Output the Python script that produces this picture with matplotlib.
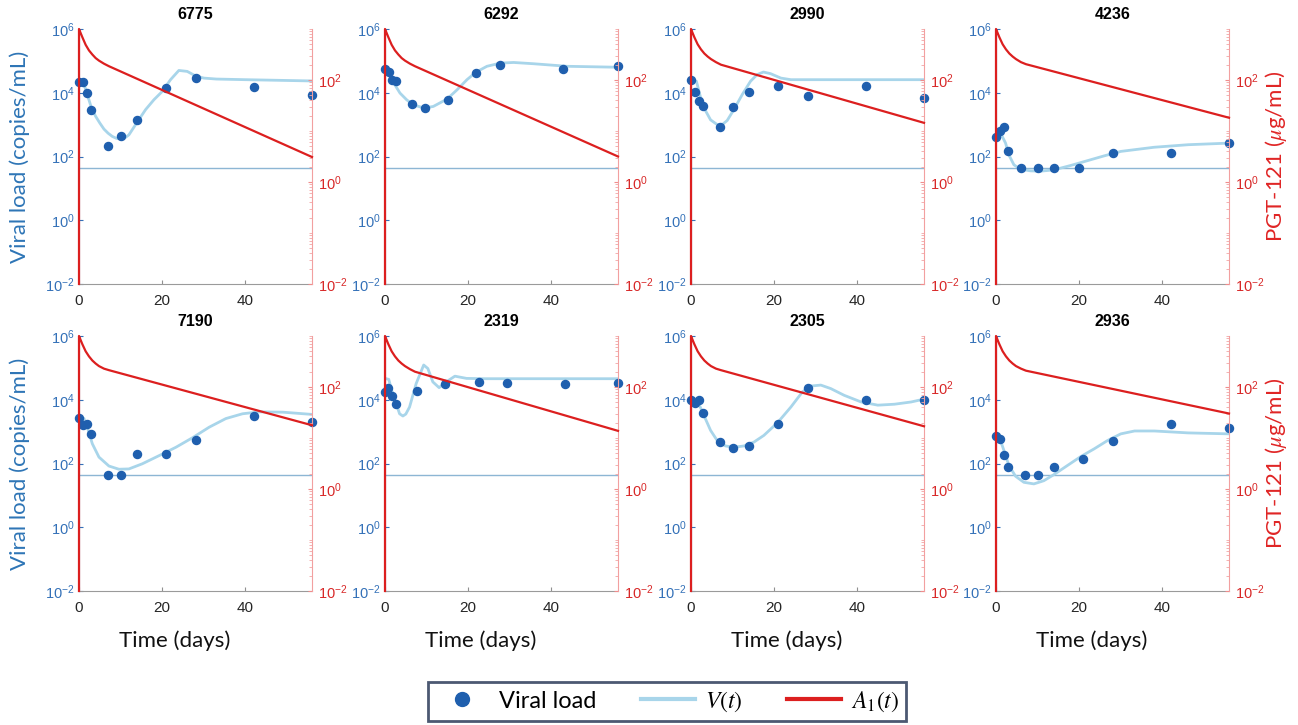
import numpy as np
import matplotlib
matplotlib.use("Agg")
import matplotlib.pyplot as plt
from matplotlib.lines import Line2D
from matplotlib.ticker import LogLocator, NullFormatter, FixedLocator

plt.rcParams["font.family"] = ["Liberation Sans", "DejaVu Sans"]
plt.rcParams["mathtext.fontset"] = "stix"

# ---- data (log10 values) ----
IDS = ["6775", "6292", "2990", "4236", "7190", "2319", "2305", "2936"]
LOD_LOG = 1.63  # detection limit, log10 copies/mL

OBS_T_6775 = [0, 1, 2, 3, 7, 10, 14, 21, 28, 42, 56]
OBS_V_6775 = [4.34, 4.34, 3.99, 3.47, 2.34, 2.63, 3.15, 4.16, 4.45, 4.18, 3.92]
FIT_T_6775 = [0, 1, 1.5, 2, 3, 4, 5, 6, 7, 8, 9, 10, 11, 12, 14, 16, 18, 20, 22, 24, 26, 28, 30, 33, 40, 56]
FIT_V_6775 = [4.34, 4.30, 4.15, 3.94, 3.52, 3.26, 3.05, 2.86, 2.73, 2.63, 2.57, 2.55, 2.58, 2.68, 3.08,
              3.47, 3.78, 4.04, 4.41, 4.70, 4.67, 4.53, 4.46, 4.43, 4.41, 4.37]

OBS_T_6292 = [0, 0.9, 1.8, 2.7, 6.6, 9.5, 15.2, 21.8, 27.6, 42.8, 56]
OBS_V_6292 = [4.75, 4.64, 4.41, 4.36, 3.64, 3.52, 3.76, 4.62, 4.86, 4.75, 4.83]
FIT_T_6292 = [0, 0.8, 1.6, 2.6, 3.6, 5.2, 6.8, 9.4, 11.6, 14.9, 17.3, 19.7, 21.8, 24.5, 27.7, 30.9, 35.7, 43.8, 56]
FIT_V_6292 = [4.77, 4.67, 4.41, 4.20, 3.99, 3.78, 3.62, 3.52, 3.57, 3.80, 4.09, 4.41, 4.64, 4.83, 4.93,
              4.95, 4.91, 4.83, 4.80]

OBS_T_2990 = [0, 1, 2, 3, 7, 10, 14, 21, 28, 42, 56]
OBS_V_2990 = [4.39, 4.01, 3.73, 3.57, 2.94, 3.55, 4.02, 4.20, 3.91, 4.20, 3.84]
FIT_T_2990 = [0, 1.3, 2.25, 3.6, 4.7, 6.3, 7.5, 8.7, 10.3, 12.3, 14.3, 15.9, 17.4, 19.1, 21.6, 24, 56]
FIT_V_2990 = [4.41, 4.36, 3.88, 3.41, 3.15, 3.00, 3.00, 3.13, 3.47, 3.94, 4.36, 4.57, 4.65, 4.60, 4.46, 4.41, 4.41]

OBS_T_4236 = [0, 1, 2, 3, 6, 10, 14, 20, 28, 42, 56]
OBS_V_4236 = [2.61, 2.81, 2.91, 2.18, LOD_LOG, LOD_LOG, LOD_LOG, LOD_LOG, 2.10, 2.10, 2.41]
FIT_T_4236 = [0, 1.5, 2.3, 3.1, 4.3, 5.9, 8.3, 10.7, 13.9, 18, 22, 26, 30, 38, 46.2, 56]
FIT_V_4236 = [2.63, 2.63, 2.42, 2.05, 1.74, 1.60, 1.55, 1.54, 1.58, 1.72, 1.87, 2.02, 2.16, 2.29, 2.37, 2.42]

OBS_T_7190 = [0, 1, 2, 3, 7, 10, 14, 21, 28, 42, 56]
OBS_V_7190 = [3.43, 3.20, 3.24, 2.91, LOD_LOG, LOD_LOG, 2.30, 2.30, 2.75, 3.50, 3.29]
FIT_T_7190 = [0, 1.2, 2, 3.2, 4.8, 7.2, 9.6, 12, 15.2, 19.3, 23.3, 27.3, 31.3, 35.3, 39.3, 43.3, 49, 56]
FIT_V_7190 = [3.46, 3.41, 3.14, 2.62, 2.20, 1.92, 1.82, 1.83, 1.99, 2.25, 2.51, 2.81, 3.14, 3.41, 3.56,
              3.62, 3.61, 3.54]

OBS_T_2319 = [0, 0.7, 1.7, 2.7, 7.7, 14.5, 22.5, 29.3, 43.2, 56]
OBS_V_2319 = [4.25, 4.37, 4.11, 3.88, 4.29, 4.48, 4.57, 4.51, 4.50, 4.53]
FIT_T_2319 = [0, 0.9, 1.6, 2.7, 3.5, 4.3, 5.0, 5.9, 7.5, 9.3, 10.3, 11.5, 13.0, 14.7, 16.8, 19.6, 24, 56]
FIT_V_2319 = [4.67, 4.64, 4.30, 3.88, 3.56, 3.49, 3.55, 3.77, 4.51, 5.09, 4.98, 4.56, 4.38, 4.56, 4.74,
              4.67, 4.66, 4.66]

OBS_T_2305 = [0, 1, 2, 3, 7, 10, 14, 21, 28, 42, 56]
OBS_V_2305 = [3.99, 3.90, 3.99, 3.59, 2.69, 2.50, 2.55, 3.25, 4.38, 3.98, 3.99]
FIT_T_2305 = [0, 1, 1.85, 3.1, 4.7, 6.3, 8.3, 10.3, 12.7, 15.1, 17.5, 20.8, 24, 26.8, 28.8, 31.2, 33.6,
              36.8, 40.9, 44.9, 48.9, 52.9, 56]
FIT_V_2305 = [4.02, 3.98, 3.88, 3.51, 3.04, 2.72, 2.55, 2.51, 2.55, 2.67, 2.88, 3.28, 3.77, 4.25, 4.43,
              4.46, 4.35, 4.14, 3.93, 3.83, 3.86, 3.93, 4.02]

OBS_T_2936 = [0, 1, 2, 3, 7, 10, 14, 21, 28, 42, 56]
OBS_V_2936 = [2.85, 2.77, 2.26, 1.88, LOD_LOG, LOD_LOG, 1.88, 2.13, 2.72, 3.23, 3.10]
FIT_T_2936 = [0, 0.8, 1.9, 3.1, 4.7, 6.7, 9.1, 11.5, 13.9, 17.2, 20.4, 23.6, 26.8, 30, 33.3, 38.1, 46.2, 56]
FIT_V_2936 = [2.90, 2.83, 2.41, 1.94, 1.60, 1.41, 1.36, 1.46, 1.65, 1.94, 2.22, 2.46, 2.72, 2.93, 3.02,
              3.02, 2.96, 2.93]

# PGT-121 concentration, log10 ug/mL (first point = pre-dose, at the axis floor)
RED_T = [0, 0, 0.4, 0.8, 1.6, 2.4, 3.2, 4, 4.8, 6, 7.2, 56]
RED_6775 = [-2, 3.0, 2.92, 2.84, 2.69, 2.58, 2.50, 2.43, 2.38, 2.32, 2.27, 0.49]
RED_6292 = [-2, 3.0, 2.92, 2.84, 2.69, 2.58, 2.50, 2.43, 2.38, 2.32, 2.27, 0.50]
RED_2990 = [-2, 3.0, 2.92, 2.84, 2.70, 2.60, 2.52, 2.46, 2.41, 2.35, 2.30, 1.16]
RED_4236 = [-2, 3.0, 2.92, 2.84, 2.70, 2.60, 2.52, 2.46, 2.41, 2.35, 2.31, 1.26]
RED_7190 = [-2, 3.0, 2.92, 2.84, 2.70, 2.60, 2.52, 2.46, 2.41, 2.36, 2.33, 1.25]
RED_2319 = [-2, 3.0, 2.92, 2.84, 2.70, 2.60, 2.52, 2.46, 2.41, 2.35, 2.30, 1.14]
RED_2305 = [-2, 3.0, 2.92, 2.84, 2.70, 2.60, 2.52, 2.46, 2.41, 2.36, 2.33, 1.23]
RED_2936 = [-2, 3.0, 2.92, 2.84, 2.70, 2.60, 2.52, 2.46, 2.41, 2.36, 2.32, 1.48]

PANELS = [
    (OBS_T_6775, OBS_V_6775, FIT_T_6775, FIT_V_6775, RED_6775),
    (OBS_T_6292, OBS_V_6292, FIT_T_6292, FIT_V_6292, RED_6292),
    (OBS_T_2990, OBS_V_2990, FIT_T_2990, FIT_V_2990, RED_2990),
    (OBS_T_4236, OBS_V_4236, FIT_T_4236, FIT_V_4236, RED_4236),
    (OBS_T_7190, OBS_V_7190, FIT_T_7190, FIT_V_7190, RED_7190),
    (OBS_T_2319, OBS_V_2319, FIT_T_2319, FIT_V_2319, RED_2319),
    (OBS_T_2305, OBS_V_2305, FIT_T_2305, FIT_V_2305, RED_2305),
    (OBS_T_2936, OBS_V_2936, FIT_T_2936, FIT_V_2936, RED_2936),
]

# ---- style ----
DOT = "#1f5fae"
FIT = "#a8d5ea"
LODC = "#8db6d4"
RED = "#dc1f1f"
BLUE_TXT = "#3471b8"
RED_TXT = "#d82828"
LABEL_BLUE = "#2e75b6"
BIG = ["Lato", "DejaVu Sans"]
W, H = 1298, 725
COL_X = [79, 385, 691, 996]
ROW_Y = [29, 336]
AX_W, AX_H = 233, 255

fig = plt.figure(figsize=(W / 100, H / 100), dpi=100)

for k, (ot, ov, ft, fv, red) in enumerate(PANELS):
    r, c = divmod(k, 4)
    x0, y0 = COL_X[c], ROW_Y[r]
    ax = fig.add_axes([x0 / W, 1 - (y0 + AX_H) / H, AX_W / W, AX_H / H])
    ax.set_yscale("log")
    ax.set_xlim(0, 56)
    ax.set_ylim(1e-2, 1e6)
    ax.axhline(10 ** LOD_LOG, color=LODC, lw=1.0, zorder=1)
    ax.plot(ft, 10 ** np.array(fv), color=FIT, lw=2.0, zorder=2)
    ax.plot(ot, 10 ** np.array(ov), "o", color=DOT, ms=5.8, zorder=3, clip_on=False)
    ax.yaxis.set_major_locator(FixedLocator([1e-2, 1, 1e2, 1e4, 1e6]))
    ax.yaxis.set_minor_locator(FixedLocator([]))
    ax.set_xticks([0, 20, 40])
    ax.tick_params(axis="y", colors=BLUE_TXT, direction="in", length=3, labelsize=10.5, pad=3)
    ax.tick_params(axis="x", colors="#909090", labelcolor="#262626", direction="in",
                   length=3, labelsize=11, pad=7)
    for s in ("top", "right"):
        ax.spines[s].set_visible(False)
    ax.spines["bottom"].set_color("#9a9a9a")
    ax.spines["left"].set_color(BLUE_TXT)
    ax.set_title(IDS[k], fontsize=11.5, fontweight="bold", pad=7)

    ax2 = ax.twinx()
    ax2.set_yscale("log")
    ax2.set_ylim(1e-2, 1e3)
    ax2.plot(RED_T, 10 ** np.array(red), color=RED, lw=1.6, clip_on=False, zorder=4)
    ax2.yaxis.set_major_locator(FixedLocator([1e-2, 1, 1e2]))
    ax2.yaxis.set_minor_locator(LogLocator(base=10, subs="all", numticks=20))
    ax2.yaxis.set_minor_formatter(NullFormatter())
    ax2.tick_params(axis="y", which="major", colors="#f08c8c", labelcolor=RED_TXT,
                    direction="in", length=3, labelsize=10.5, pad=4)
    ax2.tick_params(axis="y", which="minor", colors="#f3a5a5", direction="in", length=2)
    for s in ("top", "left", "bottom"):
        ax2.spines[s].set_visible(False)
    ax2.spines["right"].set_color("#f2a0a0")

    if r == 1:
        fig.text((x0 + AX_W / 2 - 21) / W, 1 - 641 / H, "Time (days)", ha="center", va="center",
                 fontsize=16, family=BIG, color="#111111")

for y0 in ROW_Y:
    yc = 1 - (y0 + AX_H / 2) / H
    fig.text(20 / W, yc, "Viral load (copies/mL)", rotation=90, ha="center", va="center",
             fontsize=16, family=BIG, color=LABEL_BLUE)
    fig.text(1276 / W, yc, "PGT-121 ($\\mu$g/mL)", rotation=90, ha="center", va="center",
             fontsize=16, family=BIG, color="#e02525")

handles = [
    Line2D([], [], marker="o", ls="none", color=DOT, ms=10),
    Line2D([], [], color=FIT, lw=3),
    Line2D([], [], color=RED, lw=3),
]
leg = fig.legend(handles, ["Viral load", "$V(t)$", "$A_1(t)$"], loc="lower center",
                 bbox_to_anchor=(667 / W, 4 / H), ncol=3, frameon=True, fancybox=False,
                 prop={"family": BIG, "size": 17}, handlelength=2.3, borderaxespad=0,
                 handletextpad=0.4, columnspacing=1.9, borderpad=0.3)
leg.get_frame().set_edgecolor("#1f2f4f")
leg.get_frame().set_linewidth(2)

fig.savefig("out.png", dpi=100)
